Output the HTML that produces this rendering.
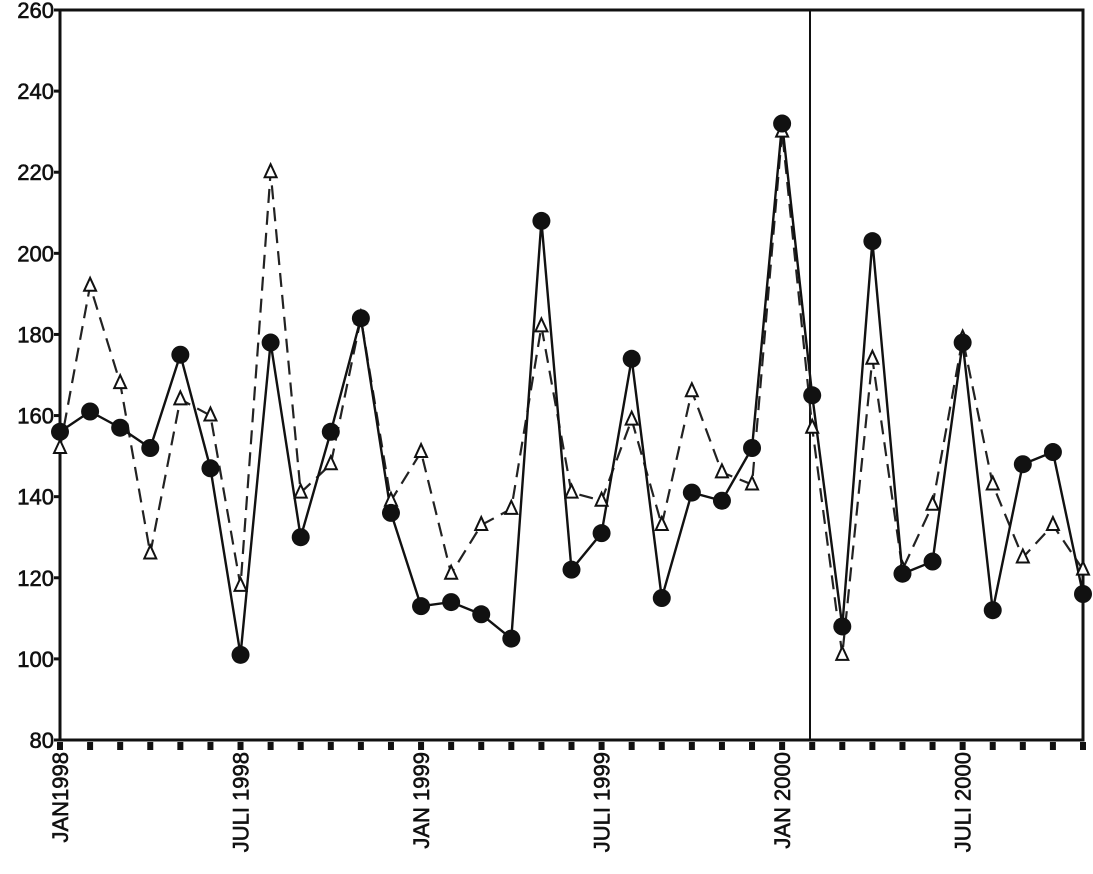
<!DOCTYPE html>
<html><head><meta charset="utf-8"><style>
body{margin:0;background:#fff;}
svg{display:block;font-family:"Liberation Sans",sans-serif;}
</style></head><body>
<svg id="c" width="1093" height="874" viewBox="0 0 1093 874" xmlns="http://www.w3.org/2000/svg"></svg>
<script>
const s=document.getElementById('c');
const L=60,R=1083,T=10,B=740;
const X=m=>L+m*(R-L)/34;
const Y=v=>B-(v-80)*(B-T)/180;
const circ=[156,161,157,152,175,147,101,178,130,156,184,136,113,114,111,105,208,122,131,174,115,141,139,152,232,165,108,203,121,124,178,112,148,151,116];
const tri=[152,192,168,126,164,160,118,220,141,148,184,139,151,121,133,137,182,141,139,159,133,166,146,143,230,157,101,174,122,138,179,143,125,133,122];
let h='';
h+=`<rect x="${L}" y="${T}" width="${R-L}" height="${B-T}" fill="none" stroke="#111" stroke-width="3"/>`;
h+=`<line x1="810" y1="${T}" x2="810" y2="${B}" stroke="#111" stroke-width="2"/>`;
for(let v=80;v<=260;v+=20){const y=Y(v);h+=`<line x1="${L-6}" y1="${y}" x2="${L}" y2="${y}" stroke="#111" stroke-width="3"/><text x="${L-6}" y="${y+8}" font-size="22" text-anchor="end" fill="#111" stroke="#111" stroke-width="0.6">${v}</text>`;}
for(let m=0;m<=34;m++){h+=`<rect x="${X(m)-3}" y="${B+2}" width="6" height="8" fill="#111"/>`;}
const labs=[[0,'JAN1998'],[6,'JULI 1998'],[12,'JAN 1999'],[18,'JULI 1999'],[24,'JAN 2000'],[30,'JULI 2000']];
for(const [m,t] of labs){const x=X(m)+8;h+=`<text transform="translate(${x},752) rotate(-90)" font-size="22" text-anchor="end" fill="#111" stroke="#111" stroke-width="0.6">${t}</text>`;}
h+=`<polyline fill="none" stroke="#222" stroke-width="2.2" stroke-dasharray="14,8" points="${tri.map((v,i)=>X(i)+','+Y(v)).join(' ')}"/>`;
h+=`<polyline fill="none" stroke="#111" stroke-width="2.4" points="${circ.map((v,i)=>X(i)+','+Y(v)).join(' ')}"/>`;
tri.forEach((v,i)=>{const x=X(i),y=Y(v);h+=`<polygon points="${x},${y-8} ${x-6},${y+5} ${x+6},${y+5}" fill="#fff" stroke="#111" stroke-width="2"/>`;});
circ.forEach((v,i)=>{h+=`<circle cx="${X(i)}" cy="${Y(v)}" r="9" fill="#111"/>`;});
s.innerHTML=h;
</script>
</body></html>
